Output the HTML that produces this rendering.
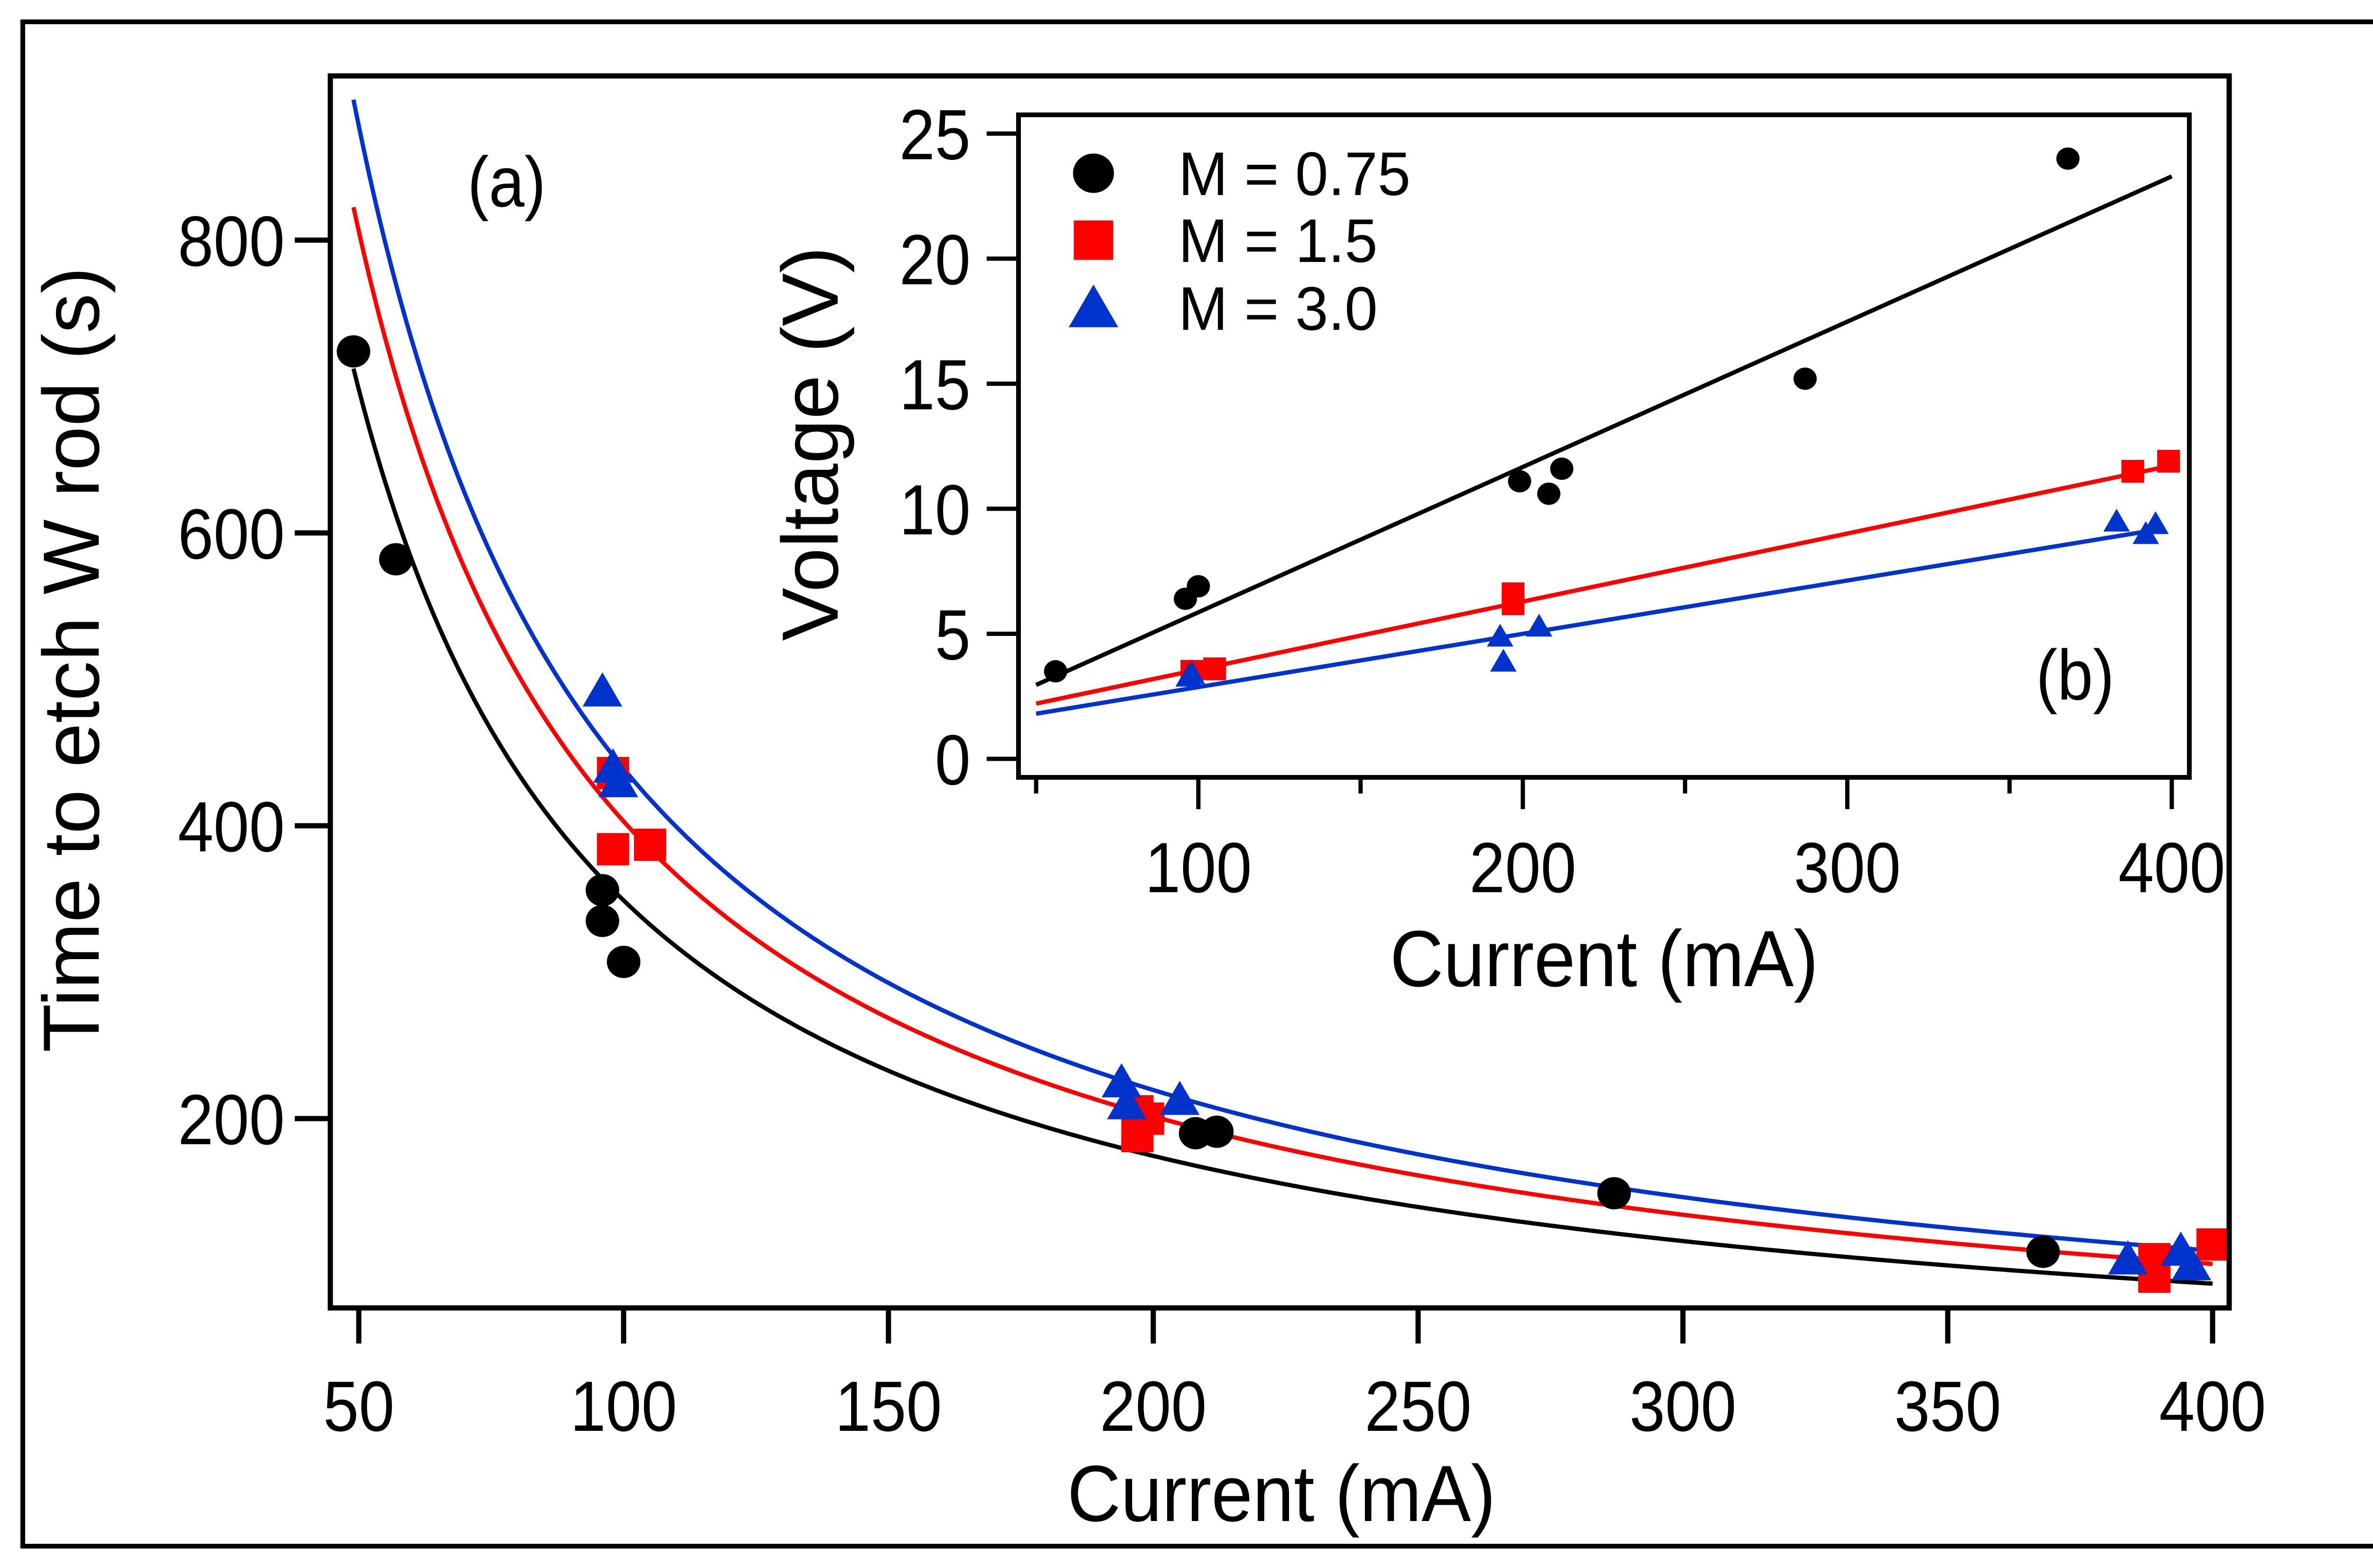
<!DOCTYPE html>
<html><head><meta charset="utf-8"><style>
html,body{margin:0;padding:0;background:#fff;}
svg{display:block;font-family:"Liberation Sans",sans-serif;}
</style></head><body>
<svg id="fig" width="5056" height="3304" viewBox="0 0 5056 3304" xmlns="http://www.w3.org/2000/svg">
<rect x="48" y="46" width="4960" height="3212" fill="none" stroke="#000" stroke-width="10"/>
<g id="main"></g>
<g id="inset"></g>
</svg>
<script>
// ---- Main chart data (a) ----
const mainXTicks = [50,100,150,200,250,300,350,400];
const mainYTicks = [200,400,600,800];
const blackX = [49,57,96,96,100,199,208,212,287,368];
const blackY = [724,582,356,335,307,200,190,191,149,109];
const redX = [98,98,105,197,197,199,389,389,400];
const redY = [436,384,387,205,188,200,104,92,114];
const blueX = [96,98,99,194,195,205,384,394,396];
const blueY = [492,440,430,225,210,213,104,110,100];
const fitA = [34900,40300,43900]; // t = a / I  for black, red, blue
// ---- Inset data (b) ----
const insXTicks = [100,200,300,400];
const insYTicks = [0,5,10,15,20,25];
const iBlackX = [56,96,100,199,208,212,287,368];
const iBlackY = [3.5,6.4,6.9,11.1,10.6,11.6,15.2,24.0];
const iRedX = [98,105,197,197,388,399];
const iRedY = [3.5,3.6,6.6,6.2,11.5,11.9];
const iBlueX = [97,98,193,194,205,383,392,395];
const iBlueY = [3.3,3.4,4.9,3.9,5.3,9.5,9.0,9.4];
const lineSlope = [0.0581,0.0272,0.0213];
const lineInt = [0.05,0.85,0.74];
const legendLabels = ["M = 0.75","M = 1.5","M = 3.0"];

const NS="http://www.w3.org/2000/svg";
const COLORS=["#000000","#ff0000","#0033cc"];
function mk(parent,tag,attrs){const e=document.createElementNS(NS,tag);for(const k in attrs)e.setAttribute(k,attrs[k]);parent.appendChild(e);return e;}
function txt(parent,x,y,s,size,anchor,sx,rot){
  const t=mk(parent,'text',{x:0,y:0,'font-size':size,'text-anchor':anchor,fill:'#000',
    transform:`translate(${x},${y}) rotate(${rot||0}) scale(${sx},1)`});
  t.textContent=s;return t;}
function marker(parent,kind,cx,cy,s,color){
  let e;
  if(kind===0) e=mk(parent,'ellipse',{cx:cx,cy:cy,rx:s*0.52,ry:s*0.5,fill:color});
  else if(kind===1) e=mk(parent,'rect',{x:cx-s/2,y:cy-s/2,width:s,height:s,fill:color});
  else e=mk(parent,'polygon',{points:`${cx},${cy-s*0.55} ${cx+s*0.58},${cy+s*0.45} ${cx-s*0.58},${cy+s*0.45}`,fill:color});
  return e;}

// ===== main =====
const M=document.getElementById('main');
const mx=v=>756+(v-50)*(558/50);
const my=v=>2974-v*(617/200);
const mL=696,mR=4697,mT=160,mB=2756;
const curveNames=['fit-curve-m075','fit-curve-m15','fit-curve-m30'];
for(let k=0;k<3;k++){
  let d='';
  for(let I=49;I<=400;I+=1){d+=(I===49?'M':'L')+mx(I).toFixed(1)+','+my(fitA[k]/I).toFixed(1);}
  const p=mk(M,'path',{d:d,fill:'none',stroke:COLORS[k],'stroke-width':9});
  
  
}
const sets=[[blackX,blackY],[redX,redY],[blueX,blueY]];
const setNames=['point-m075','point-m15','point-m30'];
for(let k=0;k<3;k++){
  const [X,Y]=sets[k];
  for(let i=0;i<X.length;i++){
    const e=marker(M,k,mx(X[i]),my(Y[i]),k===2?72:68,COLORS[k]);
    
    
  }
}
const mf=mk(M,'rect',{x:mL,y:mT,width:mR-mL,height:mB-mT,fill:'none',stroke:'#000','stroke-width':11});


for(const v of mainXTicks){
  const l=mk(M,'line',{x1:mx(v),x2:mx(v),y1:mB,y2:mB+75,stroke:'#000','stroke-width':11});
  
  
  const t=txt(M,mx(v),3015,String(v),150,'middle',0.9);
  
  
}
for(const v of mainYTicks){
  const l=mk(M,'line',{x1:mL-75,x2:mL,y1:my(v),y2:my(v),stroke:'#000','stroke-width':11});
  
  
  const t=txt(M,600,my(v)+54,String(v),150,'end',0.9);
  
  
}
let t=txt(M,2700,3205,'Current (mA)',168,'middle',0.93);


t=txt(M,208,1390,'Time to etch W rod (s)',168,'middle',1,-90);


t=txt(M,985,435,'(a)',150,'start',0.9);



// ===== inset =====
const N=document.getElementById('inset');
const ix=v=>2525+(v-100)*(2051/300);
const iy=v=>1599-v*(263.5/5);
const iL=2146,iR=4613,iT=242,iB=1638;
mk(N,'rect',{x:iL,y:iT,width:iR-iL,height:iB-iT,fill:'#fff',stroke:'none'});
const lineNames=['fit-line-m075','fit-line-m15','fit-line-m30'];
const lineEnds=[[50,400],[50,398],[50,397]];
for(let k=0;k<3;k++){
  const [a,b]=lineEnds[k];
  const l=mk(N,'line',{x1:ix(a),y1:iy(lineSlope[k]*a+lineInt[k]),x2:ix(b),y2:iy(lineSlope[k]*b+lineInt[k]),stroke:COLORS[k],'stroke-width':9});
  
  
}
const isets=[[iBlackX,iBlackY],[iRedX,iRedY],[iBlueX,iBlueY]];
for(let k=0;k<3;k++){
  const [X,Y]=isets[k];
  for(let i=0;i<X.length;i++){
    const e=marker(N,k,ix(X[i]),iy(Y[i]),k===0?47:48,COLORS[k]);
    
    
  }
}
const inf=mk(N,'rect',{x:iL,y:iT,width:iR-iL,height:iB-iT,fill:'none',stroke:'#000','stroke-width':10});


for(let v=50;v<=400;v+=50){
  const major=insXTicks.includes(v);
  const l=mk(N,'line',{x1:ix(v),x2:ix(v),y1:iB,y2:iB+(major?67:34),stroke:'#000','stroke-width':9});
  
  
}
for(const v of insXTicks){
  const t=txt(N,ix(v),1880,String(v),150,'middle',0.9);
  
  
}
for(const v of insYTicks){
  const l=mk(N,'line',{x1:iL-67,x2:iL,y1:iy(v),y2:iy(v),stroke:'#000','stroke-width':9});
  
  
  const t=txt(N,2045,iy(v)+54,String(v),150,'end',0.9);
  
  
}
t=txt(N,3380,2078,'Current (mA)',168,'middle',0.93);


t=txt(N,1765,935,'Voltage (V)',168,'middle',1,-90);


t=txt(N,4290,1474,'(b)',150,'start',0.9);


const legY=[365,506,649];
for(let k=0;k<3;k++){
  const e=marker(N,k,2304,legY[k],k===2?90:83,COLORS[k]);
  
  
  const tt=txt(N,2483,legY[k]+46,legendLabels[k],130,'start',0.96);
  
  
}
</script>
</body></html>
